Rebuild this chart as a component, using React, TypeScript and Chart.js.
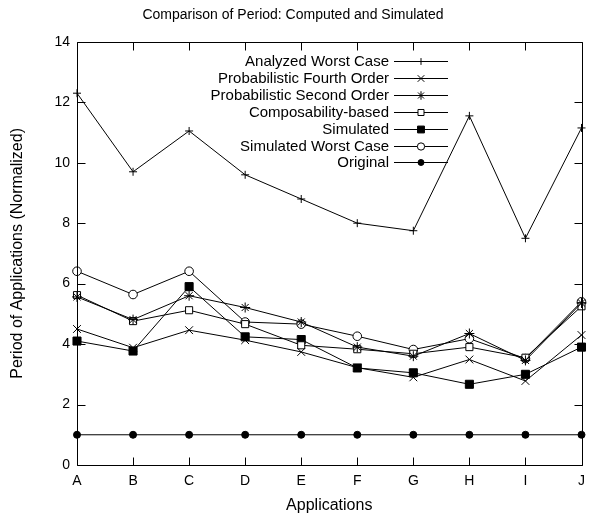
import React, { useEffect, useRef } from "react";
import { Chart, registerables } from "chart.js";
import { drawPoint } from "chart.js/helpers";

Chart.register(...registerables);

const categories = ["A", "B", "C", "D", "E", "F", "G", "H", "I", "J"];
const analyzedWorstCase = [12.3, 9.7, 11.05, 9.6, 8.8, 8.0, 7.75, 11.55, 7.5, 11.15];
const probFourthOrder = [4.5, 3.88, 4.46, 4.13, 3.74, 3.22, 2.9, 3.49, 2.78, 4.3];
const probSecondOrder = [5.56, 4.81, 5.6, 5.21, 4.73, 3.9, 3.6, 4.35, 3.46, 5.36];
const composabilityBased = [5.62, 4.76, 5.12, 4.66, 3.96, 3.83, 3.68, 3.9, 3.55, 5.25];
const simulated = [4.1, 3.77, 5.9, 4.24, 4.15, 3.21, 3.05, 2.67, 3.0, 3.9];
const simulatedWorstCase = [6.41, 5.64, 6.41, 4.73, 4.66, 4.26, 3.82, 4.18, 3.52, 5.4];
const original = [1, 1, 1, 1, 1, 1, 1, 1, 1, 1];

const FONT = "'Liberation Sans', Arial, Helvetica, sans-serif";

const seriesDefs = [
  { label: "Analyzed Worst Case", data: analyzedWorstCase, pointStyle: "cross", radius: 4, fill: "#000" },
  { label: "Probabilistic Fourth Order", data: probFourthOrder, pointStyle: "crossRot", radius: 5.5, fill: "#000" },
  { label: "Probabilistic Second Order", data: probSecondOrder, pointStyle: "star", radius: 5, fill: "#000" },
  { label: "Composability-based", data: composabilityBased, pointStyle: "rect", radius: 5, fill: "#fff" },
  { label: "Simulated", data: simulated, pointStyle: "rect", radius: 5.7, fill: "#000" },
  { label: "Simulated Worst Case", data: simulatedWorstCase, pointStyle: "circle", radius: 4.3, fill: "#fff" },
  { label: "Original", data: original, pointStyle: "circle", radius: 3.5, fill: "#000" },
];

const framePlugin = {
  id: "gnuplotFrame",
  afterDatasetsDraw(chart: any) {
    const { ctx, chartArea } = chart;
    const xs = chart.scales.x;
    const ys = chart.scales.y;
    const L = Math.round(chartArea.left) + 0.5;
    const R = Math.round(chartArea.right) + 0.5;
    const T = Math.round(chartArea.top) + 0.5;
    const B = Math.round(chartArea.bottom) + 0.5;
    const tl = 8;
    ctx.save();
    ctx.strokeStyle = "#000";
    ctx.lineWidth = 1;
    ctx.beginPath();
    ctx.rect(L, T, R - L, B - T);
    for (let i = 0; i < xs.ticks.length; i++) {
      const px = Math.round(xs.getPixelForTick(i)) + 0.5;
      ctx.moveTo(px, B);
      ctx.lineTo(px, B - tl);
      ctx.moveTo(px, T);
      ctx.lineTo(px, T + tl);
    }
    for (let i = 0; i < ys.ticks.length; i++) {
      const py = Math.round(ys.getPixelForTick(i)) + 0.5;
      ctx.moveTo(L, py);
      ctx.lineTo(L + tl, py);
      ctx.moveTo(R, py);
      ctx.lineTo(R - tl, py);
    }
    ctx.stroke();
    ctx.restore();
  },
};

const legendPlugin = {
  id: "gnuplotLegend",
  afterDraw(chart: any) {
    const { ctx } = chart;
    const textRight = 389;
    const lineStart = 394;
    const lineEnd = 448;
    const top = 61;
    const step = 16.9;
    ctx.save();
    ctx.font = `15px ${FONT}`;
    ctx.textAlign = "right";
    ctx.textBaseline = "middle";
    chart.data.datasets.forEach((ds: any, i: number) => {
      const y = Math.round(top + i * step);
      ctx.fillStyle = "#000";
      ctx.fillText(ds.label, textRight, y + 1);
      ctx.strokeStyle = "#000";
      ctx.lineWidth = 1;
      ctx.beginPath();
      ctx.moveTo(lineStart, y + 0.5);
      ctx.lineTo(lineEnd, y + 0.5);
      ctx.stroke();
      ctx.fillStyle = ds.pointBackgroundColor;
      drawPoint(ctx, { pointStyle: ds.pointStyle, rotation: 0, radius: ds.pointRadius * 0.85, borderWidth: 1 }, (lineStart + lineEnd) / 2, y + 0.5);
    });
    ctx.restore();
  },
};

export default function App() {
  const ref = useRef<HTMLCanvasElement | null>(null);
  useEffect(() => {
    if (!ref.current) return;
    document.body.style.margin = "0";
    Chart.defaults.font.family = FONT;
    Chart.defaults.color = "#000";
    const chart = new Chart(ref.current, {
      type: "line",
      data: {
        labels: categories,
        datasets: seriesDefs.map((s) => ({
          label: s.label,
          data: s.data,
          borderColor: "#000",
          borderWidth: 1,
          backgroundColor: s.fill,
          pointStyle: s.pointStyle as any,
          pointRadius: s.radius,
          pointBackgroundColor: s.fill,
          pointBorderColor: "#000",
          pointBorderWidth: 1,
          tension: 0,
          fill: false,
        })),
      },
      options: {
        animation: false,
        responsive: false,
        events: [],
        layout: { padding: { top: 0, right: 7, bottom: 0, left: 0 } },
        plugins: {
          legend: { display: false },
          tooltip: { enabled: false },
          title: {
            display: true,
            text: "Comparison of Period: Computed and Simulated",
            font: { size: 14, lineHeight: 1.2, weight: "normal" },
            color: "#000",
            padding: { top: 7, bottom: 18 },
          },
        },
        scales: {
          x: {
            type: "category",
            offset: false,
            grid: { display: false, drawTicks: false },
            border: { display: false },
            ticks: { font: { size: 14, lineHeight: 1.2 }, padding: 8, color: "#000", maxRotation: 0, autoSkip: false },
            title: {
              display: true,
              text: "Applications",
              font: { size: 16, lineHeight: 1.2 },
              color: "#000",
              padding: { top: 0, bottom: 1 },
            },
            afterFit(scale: any) {
              scale.height = 51;
            },
          },
          y: {
            min: 0,
            max: 14,
            grid: { display: false, drawTicks: false },
            border: { display: false },
            ticks: { stepSize: 2, font: { size: 14, lineHeight: 1.2 }, padding: 7, color: "#000" },
            title: {
              display: true,
              text: "Period of Applications (Normalized)",
              font: { size: 16, lineHeight: 1.2 },
              color: "#000",
              padding: { top: 8, bottom: 0 },
            },
            afterFit(scale: any) {
              scale.width = 77;
            },
          },
        },
      },
      plugins: [framePlugin, legendPlugin],
    });
    return () => chart.destroy();
  }, []);
  return (
    <div style={{ position: "absolute", left: 0, top: 0, width: 593, height: 516 }}>
      <canvas ref={ref} width={593} height={516} style={{ width: 593, height: 516 }} />
    </div>
  );
}
